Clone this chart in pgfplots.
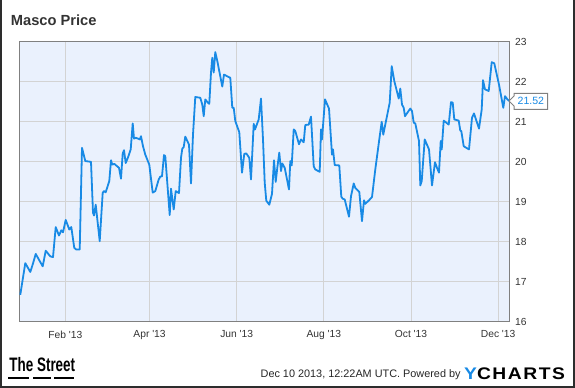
\documentclass[border=0pt]{standalone}
\usepackage{fontspec}
\setmainfont{Liberation Sans}
\usepackage{graphicx}
\usepackage{pgfplots}
\pgfplotsset{compat=1.18}
\definecolor{lineblue}{RGB}{24,138,229}
\definecolor{bgblue}{RGB}{234,241,253}
\definecolor{gridgray}{RGB}{211,211,211}
\definecolor{axisgray}{RGB}{128,128,128}
\definecolor{txtgray}{RGB}{51,51,51}
\definecolor{framegray}{RGB}{45,45,45}
\begin{document}
\begin{tikzpicture}
\path[use as bounding box] (0,0) rectangle (431.25pt,291pt);
\begin{axis}[
  at={(14.25pt,49.5pt)}, anchor=south west,
  scale only axis, width=367.5pt, height=210.2pt,
  xmin=-1.4, xmax=341.6, ymin=16, ymax=23,
  xtick={31,90,151,212,273,334},
  xticklabels={Feb \textquotesingle13, Apr \textquotesingle13, Jun \textquotesingle13, Aug \textquotesingle13, Oct \textquotesingle13, Dec \textquotesingle13},
  ytick={16,17,...,23},
  yticklabel pos=right,
  grid=major,
  major grid style={gridgray, line width=0.75pt},
  axis line style={axisgray, line width=0.75pt},
  major tick length=0pt,
  axis background/.style={fill=bgblue},
  tick label style={font=\fontsize{7.7}{9}\selectfont, text=txtgray},
  xticklabel style={yshift=-3pt},
  yticklabel style={xshift=1pt},
  /pgf/number format/assume math mode=true,
  clip=false,
]
\addplot[lineblue, line width=1.35pt, line join=round] coordinates {
(-0.5,16.68)(3.0,17.47)(6.5,17.25)(8.4,17.46)(10.3,17.70)(15.2,17.39)(17.3,17.78)
(20.5,17.64)(22.4,17.62)(24.3,18.37)(26.6,18.16)(28.2,18.29)(29.4,18.24)(31.3,18.55)
(33.8,18.31)(35.2,18.37)(37.3,17.85)(38.7,17.81)(41.1,17.81)(42.7,20.35)(45.0,20.02)
(49.0,20.00)(50.4,18.73)(51.1,18.66)(52.3,18.93)(55.1,18.02)(57.2,19.23)(58.1,19.27)
(59.3,19.24)(61.8,19.52)(63.0,20.04)(63.9,19.93)(65.3,19.95)(68.6,19.85)(70.0,19.58)
(71.2,20.21)(72.1,20.29)(73.3,19.97)(75.1,20.13)(76.8,20.31)(78.2,20.96)(79.1,20.58)
(80.3,20.60)(81.9,20.58)(83.1,20.56)(84.0,20.64)(85.4,20.39)(87.0,20.18)(89.8,19.93)
(92.2,19.23)(94.0,19.27)(96.4,19.56)(97.5,19.63)(98.7,19.64)(100.1,20.17)(101.0,20.14)
(104.1,18.67)(105.0,19.33)(106.9,18.81)(108.3,19.27)(110.6,19.22)(112.0,20.10)(112.9,20.33)
(113.9,20.37)(115.0,20.63)(117.6,20.43)(119.0,19.46)(120.4,20.68)(122.0,21.62)(125.5,21.60)
(126.9,21.43)(127.9,21.14)(129.0,21.56)(130.7,21.48)(131.8,21.45)(133.0,22.23)(133.9,22.60)
(134.9,22.23)(136.0,22.74)(137.4,22.52)(140.9,21.88)(142.1,22.18)(144.2,22.14)(146.5,22.10)
(147.9,21.35)(148.9,21.35)(150.0,21.02)(152.8,20.74)(154.7,19.73)(156.3,20.20)(157.7,20.21)
(159.8,20.10)(161.0,19.56)(162.9,20.95)(163.8,20.81)(166.4,21.06)(168.0,21.58)(169.4,20.56)
(170.6,19.48)(171.7,19.03)(173.8,18.93)(175.7,19.20)(177.1,20.04)(178.3,19.50)(179.4,19.85)
(180.8,20.23)(182.0,19.77)(182.9,19.96)(184.6,19.85)(187.6,19.31)(188.5,20.02)(189.5,19.91)
(190.9,20.81)(192.0,20.77)(194.6,20.44)(196.0,20.56)(197.9,20.49)(199.0,20.92)(201.4,20.93)
(203.0,21.13)(204.9,19.89)(206.0,19.81)(209.1,19.75)(210.0,20.81)(210.7,20.56)(212.8,21.56)
(215.6,21.33)(217.7,20.18)(218.4,20.31)(219.6,19.92)(222.8,19.91)(224.2,19.13)(225.2,19.08)
(226.6,19.06)(229.6,18.63)(231.0,19.14)(232.9,19.46)(234.0,19.35)(236.8,19.25)(238.7,18.52)
(240.1,19.04)(241.0,18.95)(243.6,19.04)(245.7,19.12)(248.0,19.81)(250.8,20.56)(252.5,21.00)
(253.6,20.68)(255.0,20.93)(258.1,21.48)(259.5,22.39)(261.3,22.02)(264.4,21.58)(265.5,21.83)
(266.7,21.43)(267.9,21.35)(268.8,21.14)(270.7,21.24)(272.5,21.33)(273.7,21.27)(274.9,20.98)
(276.0,20.96)(278.6,20.52)(279.5,19.41)(280.5,19.52)(282.6,20.56)(285.6,20.31)(287.7,19.41)
(289.8,19.99)(291.2,19.85)(292.6,19.73)(293.8,20.52)(294.5,20.31)(295.9,21.03)(299.4,20.93)
(301.0,21.49)(302.2,21.48)(303.3,21.06)(306.4,21.03)(307.5,20.78)(308.2,20.77)(309.9,20.39)
(313.6,20.31)(315.7,21.10)(317.1,21.21)(320.6,20.83)(322.5,21.31)(323.4,22.04)(324.8,21.81)
(327.4,21.77)(329.5,22.49)(331.3,22.46)(334.6,21.93)(337.6,21.35)(338.8,21.64)(340.5,21.56)
(341.6,21.52)
};
\coordinate (lasttip) at (axis cs:341.6,21.52);
\end{axis}
\draw[fill=white, draw=axisgray, line width=0.75pt] (lasttip) -- ([shift={(3.75pt,3.75pt)}]lasttip) -- ([shift={(3.75pt,5.8pt)}]lasttip) -- ([shift={(29pt,5.8pt)}]lasttip) -- ([shift={(29pt,-6.2pt)}]lasttip) -- ([shift={(3.75pt,-6.2pt)}]lasttip) -- ([shift={(3.75pt,-3.75pt)}]lasttip) -- cycle;
\node[text=lineblue, font=\fontsize{7.9}{9}\selectfont, inner sep=0] at ([shift={(16.4pt,-0.2pt)}]lasttip) {21.52};
\begin{scope}[x=0.75pt,y=-0.75pt,shift={(0,291pt)}]
\draw[framegray, line width=1.5pt] (1,0) -- (1,387) -- (574,387) -- (574,0);
\node[anchor=base west, inner sep=0, font=\bfseries\fontsize{11}{13}\selectfont, text=txtgray] at (10.7,26) {Masco Price};
\node[anchor=base west, inner sep=0] at (9.2,372) {\scalebox{0.69}[1]{\bfseries\fontsize{14.6}{16}\selectfont The Street}};
\fill[black] (8.4,377.3) rectangle (29,379.3);
\fill[black] (33,377.3) rectangle (50.6,379.3);
\fill[black] (54.3,377.3) rectangle (74.4,379.3);
\node[anchor=base west, inner sep=0, font=\fontsize{8.15}{10}\selectfont, text=black!85] at (260.4,378) {Dec 10 2013, 12:22AM UTC. Powered by};
\node[anchor=south west, inner sep=0] at (463.9,380) {\resizebox{75.6pt}{8.8pt}{\addfontfeature{LetterSpace=8}\bfseries {\color{lineblue}Y}CHARTS}};
\end{scope}
\end{tikzpicture}
\end{document}
